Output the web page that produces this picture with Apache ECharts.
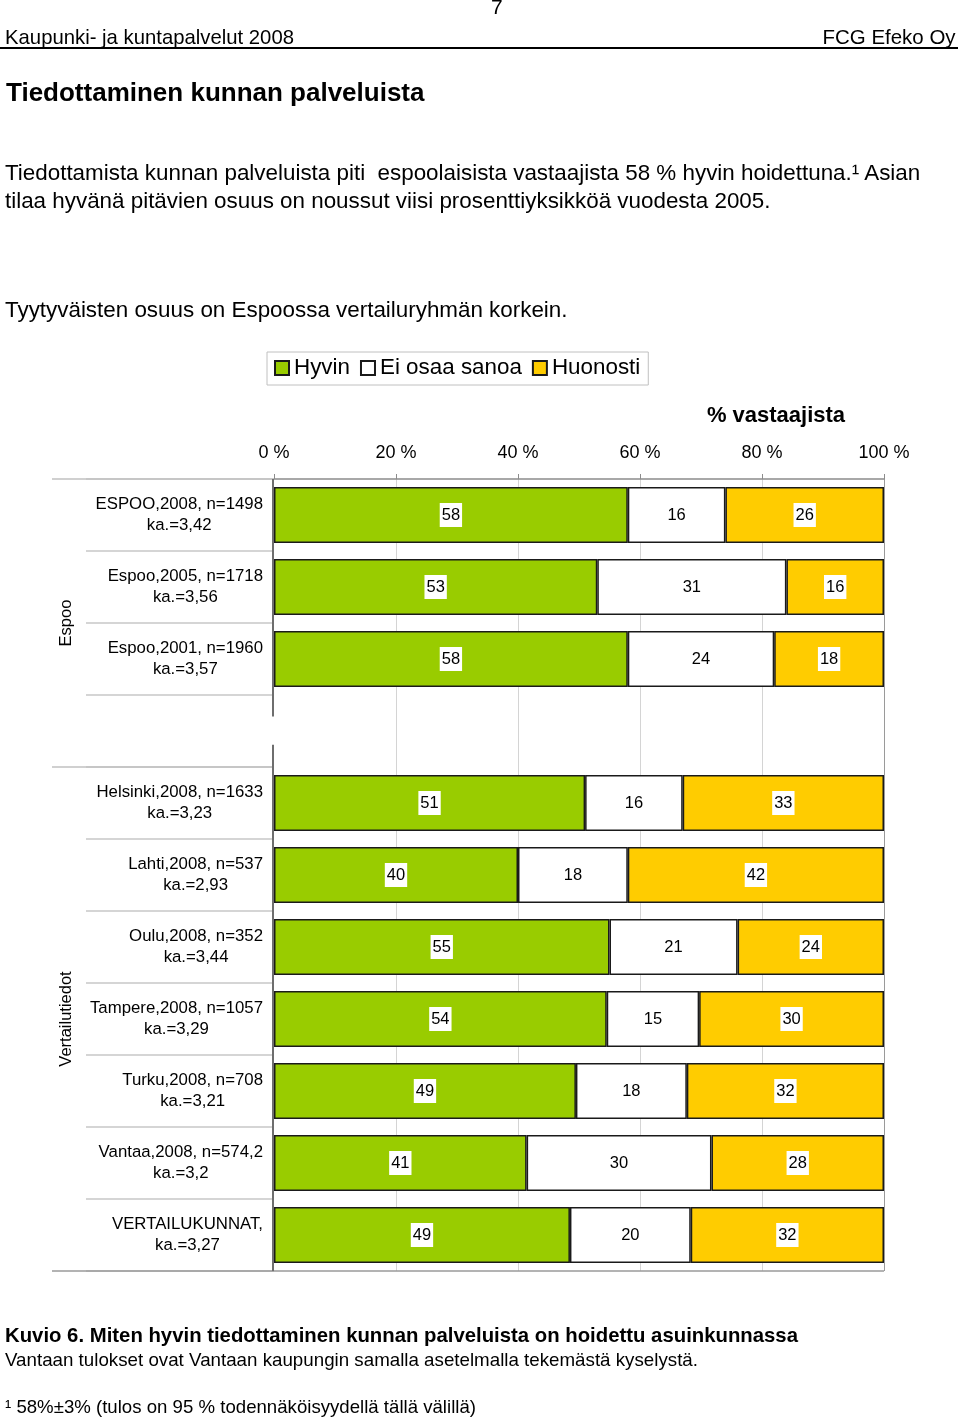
<!DOCTYPE html>
<html><head><meta charset="utf-8">
<script src="https://cdn.jsdelivr.net/npm/echarts@6/dist/echarts.min.js"></script>
<style>
html,body{margin:0;padding:0;background:#fff;}
body{width:960px;height:1419px;position:relative;overflow:hidden;font-family:"Liberation Sans",Arial,sans-serif;color:#000;}
#chart{position:absolute;left:0;top:0;width:960px;height:1419px;}
.t{position:absolute;white-space:nowrap;z-index:2;transform-origin:0 50%;}
.r{transform-origin:100% 50%;}
</style></head><body>
<div id="chart"></div>
<div class="t" style="left:491px;top:-4px;font-size:21px;line-height:21px;">7</div>
<div class="t" data-w="289" style="left:5px;top:26px;font-size:21px;line-height:21px;">Kaupunki- ja kuntapalvelut 2008</div>
<div class="t r" data-w="133" style="right:4px;top:26px;font-size:21px;line-height:21px;">FCG Efeko Oy</div>
<div style="position:absolute;left:0;top:47px;width:958px;height:2px;background:#000;z-index:2;"></div>
<div class="t" style="left:6px;top:79px;font-size:26px;line-height:26px;font-weight:bold;">Tiedottaminen kunnan palveluista</div>
<div class="t" style="left:5px;top:159px;font-size:22.4px;line-height:28px;">Tiedottamista kunnan palveluista piti &nbsp;espoolaisista vastaajista 58 % hyvin hoidettuna.¹ Asian<br>tilaa hyvänä pitävien osuus on noussut viisi prosenttiyksikköä vuodesta 2005.</div>
<div class="t" style="left:5px;top:296px;font-size:22.4px;line-height:28px;">Tyytyväisten osuus on Espoossa vertailuryhmän korkein.</div>
<div class="t" data-w="793" style="left:5px;top:1324px;font-size:21px;line-height:21px;font-weight:bold;">Kuvio 6. Miten hyvin tiedottaminen kunnan palveluista on hoidettu asuinkunnassa</div>
<div class="t" data-w="693" style="left:5px;top:1350px;font-size:19px;line-height:19px;">Vantaan tulokset ovat Vantaan kaupungin samalla asetelmalla tekemästä kyselystä.</div>
<div class="t" data-w="471" style="left:5px;top:1397px;font-size:19px;line-height:19px;">¹ 58%±3% (tulos on 95 % todennäköisyydellä tällä välillä)</div>
<script>
const categories = [
  'ESPOO,2008, n=1498\nka.=3,42',
  'Espoo,2005, n=1718\nka.=3,56',
  'Espoo,2001, n=1960\nka.=3,57',
  '',
  'Helsinki,2008, n=1633\nka.=3,23',
  'Lahti,2008, n=537\nka.=2,93',
  'Oulu,2008, n=352\nka.=3,44',
  'Tampere,2008, n=1057\nka.=3,29',
  'Turku,2008, n=708\nka.=3,21',
  'Vantaa,2008, n=574,2\nka.=3,2',
  'VERTAILUKUNNAT,\nka.=3,27'
];
const hyvin    = [58, 53, 58, null, 51, 40, 55, 54, 49, 41, 49];
const eiOsaa   = [16, 31, 24, null, 16, 18, 21, 15, 18, 30, 20];
const huonosti = [26, 16, 18, null, 33, 42, 24, 30, 32, 28, 32];
const seriesNames = ['Hyvin', 'Ei osaa sanoa', 'Huonosti'];
const xTickLabels = ['0 %', '20 %', '40 %', '60 %', '80 %', '100 %'];
const groupNames = ['Espoo', 'Vertailutiedot'];
const groupRanges = [[0, 4], [4, 11]]; // category boundary indices
const axisTitle = '% vastaajista';

// fit condensed-looking page texts to their widths in the original
document.querySelectorAll('[data-w]').forEach(el => {
  const w = el.getBoundingClientRect().width;
  el.style.transform = 'scaleX(' + (parseFloat(el.dataset.w) / w) + ')';
});

const FONT = '"Liberation Sans", Arial, sans-serif';
const colors = ['#99cc00', '#ffffff', '#ffcc00'];
const raw = [hyvin, eiOsaa, huonosti];

// 100 % stacked: each row normalized to its total, labels show the read values
const totals = categories.map((c, i) => raw.reduce((s, arr) => s + (arr[i] || 0), 0));
const series = raw.map((arr, k) => ({
  name: seriesNames[k],
  type: 'bar',
  stack: 'total',
  barWidth: 56,
  itemStyle: { color: colors[k], borderColor: '#1a1a1a', borderWidth: 1.5 },
  label: {
    show: true, position: 'inside', fontSize: 16.5, fontFamily: FONT, color: '#000',
    backgroundColor: k === 1 ? 'transparent' : '#ffffff',
    padding: [4, 2, 3, 2],
    formatter: p => (p.data && p.data.raw != null) ? String(p.data.raw) : ''
  },
  data: arr.map((v, i) => v == null ? null : { value: v / totals[i] * 100, raw: v })
}));

const chart = echarts.init(document.getElementById('chart'));
const option = {
  animation: false,
  backgroundColor: '#ffffff',
  legend: {
    left: 267, top: 352, data: seriesNames, icon: 'rect',
    itemWidth: 14, itemHeight: 14, itemGap: 10,
    borderColor: '#c0c0c0', borderWidth: 1, padding: [5, 8, 6, 7],
    textStyle: { fontSize: 22.4, color: '#000', fontFamily: FONT },
    selectedMode: false
  },
  grid: { left: 274, top: 479, width: 610, height: 792, containLabel: false },
  xAxis: {
    type: 'value', position: 'top', min: 0, max: 100, interval: 20,
    axisLine: { show: true, lineStyle: { color: '#8c8c8c', width: 1.5 } },
    axisTick: { show: true, length: 5, lineStyle: { color: '#8c8c8c' } },
    axisLabel: { fontSize: 18, color: '#000', fontFamily: FONT, margin: 17,
      formatter: v => xTickLabels[Math.round(v / 20)] },
    splitLine: { show: true, lineStyle: { color: ['rgba(0,0,0,0)', '#d4d4d4', '#d4d4d4', '#d4d4d4', '#d4d4d4', '#9a9a9a'], width: 1 } }
  },
  yAxis: {
    type: 'category', inverse: true, data: categories,
    axisLine: { show: false },
    axisTick: { show: true, length: 188, interval: 0, lineStyle: { color: '#c8c8c8', width: 1.5 } },
    axisLabel: {
      margin: 11, align: 'right', interval: 0, fontSize: 16.8, color: '#000', fontFamily: FONT,
      formatter: v => v ? v.split('\n').map(s => '{c|' + s + '}').join('\n') : '',
      rich: { c: { align: 'center', fontSize: 16.8, lineHeight: 21, color: '#000', fontFamily: FONT } }
    }
  },
  series: series
};
chart.setOption(option);

// decorations positioned through the chart's own scales
const yb = idx => {
  const a = chart.convertToPixel({ gridIndex: 0 }, [0, Math.min(idx, categories.length - 1)])[1];
  const step = chart.convertToPixel({ gridIndex: 0 }, [0, 1])[1] - chart.convertToPixel({ gridIndex: 0 }, [0, 0])[1];
  return idx >= categories.length ? a + step / 2 : a - step / 2;
};
const x0 = chart.convertToPixel({ gridIndex: 0 }, [0, 0])[0];
const x100 = chart.convertToPixel({ gridIndex: 0 }, [100, 0])[0];
const rowStep = yb(1) - yb(0);
const graphics = [];
const gray = '#c0c0c0';
[0, 4].forEach(b => {
  graphics.push({ type: 'line', shape: { x1: 52, y1: yb(b), x2: x0, y2: yb(b) }, style: { stroke: gray, lineWidth: 1.5 }, z: 5 });
});
graphics.push({ type: 'line', shape: { x1: 52, y1: yb(11), x2: x100, y2: yb(11) }, style: { stroke: '#9a9a9a', lineWidth: 1.5 }, z: 5 });
const emptyCenter = chart.convertToPixel({ gridIndex: 0 }, [0, 3])[1];
graphics.push({ type: 'line', shape: { x1: x0 - 1, y1: yb(0), x2: x0 - 1, y2: emptyCenter - rowStep * 0.2 }, style: { stroke: '#6e6e6e', lineWidth: 2 }, z: 6 });
graphics.push({ type: 'line', shape: { x1: x0 - 1, y1: emptyCenter + rowStep * 0.19, x2: x0 - 1, y2: yb(11) }, style: { stroke: '#6e6e6e', lineWidth: 2 }, z: 6 });
groupNames.forEach((g, i) => {
  const yc = (yb(groupRanges[i][0]) + yb(groupRanges[i][1])) / 2;
  graphics.push({ type: 'text', x: 66, y: yc, rotation: Math.PI / 2,
    style: { text: g, fontSize: 16.5, fontFamily: FONT, fill: '#000', align: 'center', verticalAlign: 'middle' }, z: 6 });
});
graphics.push({ type: 'text', x: (x0 + x100) / 2 + 197, y: 416,
  style: { text: axisTitle, fontSize: 22, fontWeight: 'bold', fontFamily: FONT, fill: '#000', align: 'center', verticalAlign: 'middle' }, z: 6 });
chart.setOption({ graphic: graphics });
</script>
</body></html>
